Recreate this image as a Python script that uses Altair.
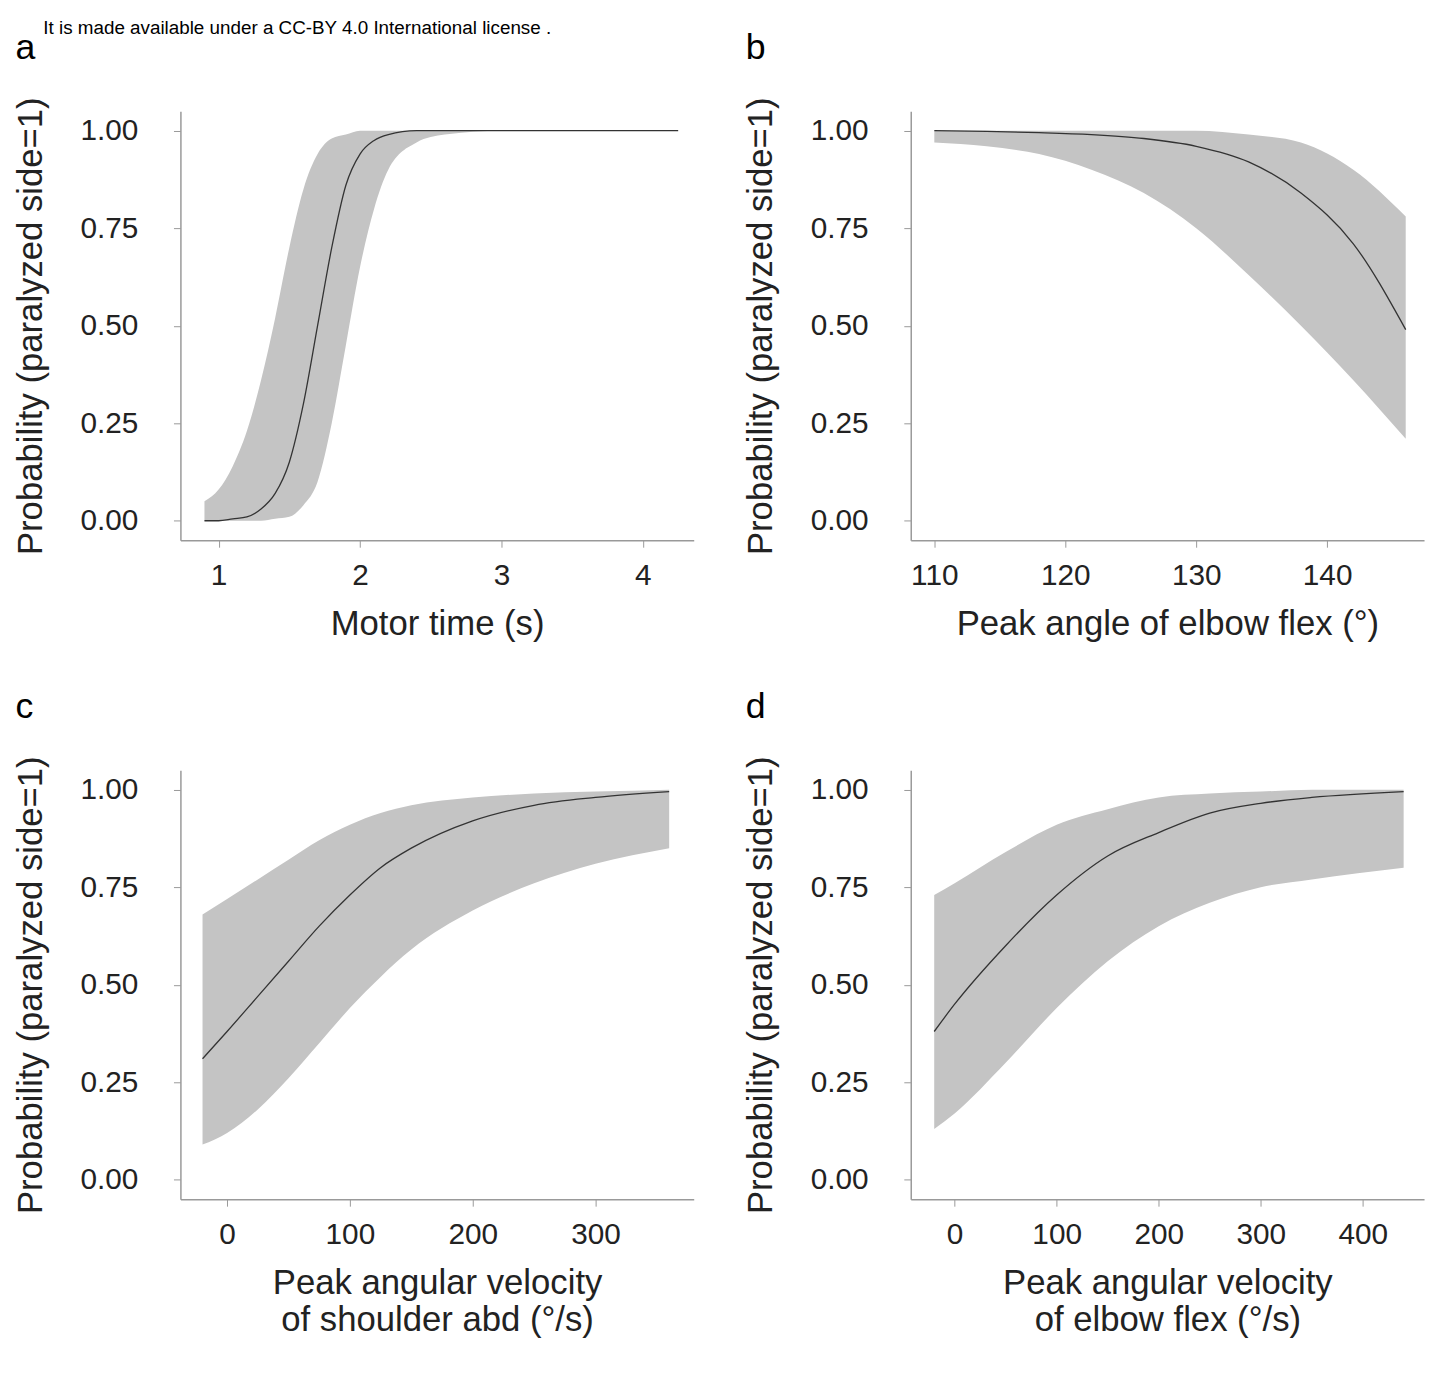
import pandas as pd
import altair as alt

# panel a: motor time
a_x = [0.9, 1.0, 1.1, 1.2, 1.3, 1.4, 1.5, 1.6, 1.7, 1.8, 1.9, 2.0, 2.1, 2.2, 2.4, 2.6, 3.0, 4.25]
a_fit = [0.0, 0.0, 0.005, 0.01, 0.03, 0.07, 0.15, 0.3, 0.5, 0.7, 0.86, 0.94, 0.975, 0.99, 1, 1, 1, 1]
a_lo = [0, 0, 0, 0, 0, 0.005, 0.01, 0.04, 0.1, 0.25, 0.45, 0.65, 0.8, 0.9, 0.97, 0.99, 1, 1]
a_hi = [0.05, 0.08, 0.14, 0.23, 0.36, 0.52, 0.7, 0.85, 0.94, 0.98, 0.99, 1, 1, 1, 1, 1, 1, 1]

# panel b: peak angle of elbow flex
b_x = [110, 114, 118, 122, 126, 130, 134, 138, 142, 146]
b_fit = [1.0, 0.998, 0.995, 0.99, 0.98, 0.96, 0.92, 0.84, 0.71, 0.49]
b_hi = [1, 1, 1, 1, 1, 1, 0.99, 0.97, 0.9, 0.78]
b_lo = [0.97, 0.96, 0.94, 0.9, 0.84, 0.75, 0.63, 0.5, 0.36, 0.21]

# panel c: peak angular velocity of shoulder abd
c_x = [-20, 0, 25, 50, 75, 100, 125, 150, 200, 250, 300, 360]
c_fit = [0.31, 0.38, 0.47, 0.56, 0.65, 0.73, 0.8, 0.85, 0.92, 0.96, 0.98, 0.995]
c_hi = [0.68, 0.72, 0.77, 0.82, 0.87, 0.91, 0.94, 0.96, 0.98, 0.99, 0.995, 1.0]
c_lo = [0.09, 0.12, 0.18, 0.26, 0.35, 0.44, 0.52, 0.59, 0.69, 0.76, 0.81, 0.85]

# panel d: peak angular velocity of elbow flex
d_x = [-20, 0, 50, 100, 150, 200, 250, 300, 350, 440]
d_fit = [0.38, 0.45, 0.6, 0.73, 0.83, 0.89, 0.94, 0.965, 0.98, 0.995]
d_hi = [0.73, 0.76, 0.84, 0.91, 0.95, 0.98, 0.99, 0.995, 1, 1]
d_lo = [0.13, 0.17, 0.3, 0.44, 0.56, 0.65, 0.71, 0.75, 0.77, 0.8]

y_ticks = [0, 0.25, 0.5, 0.75, 1.0]
FONT = "Liberation Sans"


def panel(letter, xs, fit, lo, hi, xdom, xticks, xtitle):
    df = pd.DataFrame({"x": xs, "fit": fit, "lo": lo, "hi": hi})
    x = alt.X("x:Q", scale=alt.Scale(domain=xdom, nice=False, zero=False),
              axis=alt.Axis(values=xticks, title=xtitle, format="d" if xticks[-1] > 10 else "",
                            labelPadding=14, titlePadding=16))
    y_axis = alt.Axis(values=y_ticks, format=".2f", title="Probability (paralyzed side=1)",
                      labelPadding=36, titlePadding=32)
    band = alt.Chart(df).mark_area(color="#c4c4c4", interpolate="monotone").encode(
        x=x, y=alt.Y("lo:Q", scale=alt.Scale(domain=[-0.05, 1.05], nice=False), axis=y_axis),
        y2="hi:Q")
    line = alt.Chart(df).mark_line(color="#333333", strokeWidth=1.3, interpolate="monotone").encode(
        x=x, y="fit:Q")
    return (band + line).properties(
        width=518, height=433,
        title=alt.TitleParams(letter, anchor="start", frame="bounds", fontSize=36,
                              fontWeight=500, dx=2, offset=30, font=FONT))


pa = panel("a", a_x, a_fit, a_lo, a_hi, [0.73, 4.36], [1, 2, 3, 4], "Motor time (s)")
pb = panel("b", b_x, b_fit, b_lo, b_hi, [108.2, 147.4], [110, 120, 130, 140], "Peak angle of elbow flex (°)")
pc = panel("c", c_x, c_fit, c_lo, c_hi, [-38, 380], [0, 100, 200, 300],
           ["Peak angular velocity", "of shoulder abd (°/s)"])
pd_ = panel("d", d_x, d_fit, d_lo, d_hi, [-43, 460], [0, 100, 200, 300, 400],
            ["Peak angular velocity", "of elbow flex (°/s)"])

chart = alt.vconcat(
    alt.hconcat(pa, pb, spacing=50),
    alt.hconcat(pc, pd_, spacing=50),
    spacing=48,
).properties(
    title=alt.TitleParams("It is made available under a CC-BY 4.0 International license .",
                          anchor="start", fontSize=19, fontWeight="normal", dx=30, font=FONT,
                          offset=-8)
).configure_view(stroke=None).configure_axis(
    labelFont=FONT, titleFont=FONT, labelFontSize=30, titleFontSize=35,
    labelColor="#222", titleColor="#222", titleFontWeight="normal",
    domainColor="#999", tickColor="#999", tickSize=7, grid=False, domainWidth=1.5,
)

chart.save("out.html", embed_options={"renderer": "svg", "actions": False})
